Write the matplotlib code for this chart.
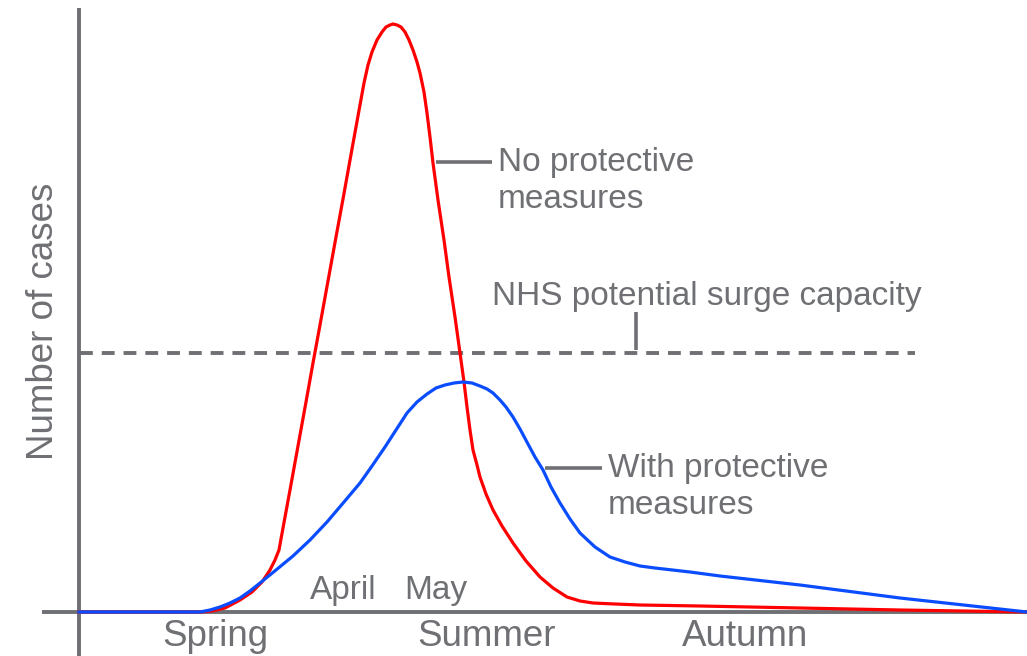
import numpy as np
import matplotlib.pyplot as plt

# curves: x in px across, height in px above the baseline
red_x = [79, 200, 212, 225, 240, 252, 262, 270, 275, 279, 283, 290, 298, 306, 313, 320,
         328, 336, 343, 352, 360, 364, 368, 372, 377, 382, 386, 390, 393, 397, 401,
         405, 409, 413, 417, 420, 424, 427, 430, 433, 438, 444, 449, 455, 460, 464, 467,
         470, 473, 477, 480, 486, 493, 502, 513, 526, 540, 553, 567, 580, 593, 615, 640,
         700, 800, 900, 1027]
red_y = [0, 0, 1, 4, 12, 20, 30, 42, 52, 62, 84, 122, 166, 210, 249, 287,
         331, 375, 413, 463, 507, 529, 547, 560, 572, 580, 585, 587, 588, 587, 585,
         580, 572, 562, 550, 539, 520, 499, 475, 449, 412, 372, 335, 295, 259, 230, 205,
         182, 162, 147, 135, 118, 102, 86, 69, 51, 35, 24, 15, 11, 9, 8, 7,
         6, 4, 2, 0]
blue_x = [79, 200, 210, 220, 230, 240, 250, 260, 276, 293, 310, 327, 344, 360, 372, 385, 396,
          407, 417, 427, 436, 445, 454, 463, 472, 480, 487, 493, 500, 506, 513, 520, 528,
          535, 543, 551, 560, 570, 580, 595, 610, 625, 640, 655, 690, 720, 800, 900, 1027]
blue_y = [0, 0, 2, 5, 9, 14, 21, 29, 42, 56, 72, 90, 110, 129, 146, 165, 182,
          199, 210, 218, 224, 227, 229, 230, 229, 226, 223, 219, 212, 205, 195, 183, 168,
          155, 142, 125, 109, 93, 79, 65, 55, 50, 46, 44, 40, 36, 27, 14, 0]
surge = 259

months = ["April", "May"]
month_x = [343, 436]
seasons = ["Spring", "Summer", "Autumn"]
season_x = [215, 487, 745]

grey = "#6f7073"
plt.rcParams['font.family'] = ['Liberation Sans', 'DejaVu Sans']

fig = plt.figure(figsize=(10.27, 6.56), dpi=100)
ax = fig.add_axes([0, 0, 1, 1])
ax.set_xlim(0, 1027)
ax.set_ylim(-44, 612)
ax.axis("off")

# axes lines
ax.plot([42, 1027], [0, 0], color=grey, lw=2.8, solid_capstyle="butt", zorder=1)
ax.plot([79, 79], [-44, 604], color=grey, lw=2.8, solid_capstyle="butt", zorder=1)

ax.plot([80, 915], [surge, surge], color=grey, lw=2.8, dashes=(3.3, 2.3), zorder=2)
ax.plot(red_x, red_y, color="#ff0000", lw=2.3, zorder=3, solid_joinstyle="round")
ax.plot(blue_x, blue_y, color="#0a4dff", lw=2.3, zorder=4, solid_joinstyle="round")

# label connectors
ax.plot([436, 492], [450, 450], color=grey, lw=2.6, solid_capstyle="butt")
ax.plot([545, 602], [144, 144], color=grey, lw=2.6, solid_capstyle="butt")
ax.plot([636, 636], [262, 300], color=grey, lw=2.6, solid_capstyle="butt")

fs = 24
ax.text(498, 431, "No protective\nmeasures", color=grey, fontsize=fs, va="center",
        ha="left", linespacing=1.25)
ax.text(608, 125, "With protective\nmeasures", color=grey, fontsize=fs, va="center",
        ha="left", linespacing=1.25)
ax.text(707, 315, "NHS potential surge capacity", color=grey, fontsize=fs, ha="center",
        va="center")
ax.text(44, 291, "Number of cases", color=grey, fontsize=26.5, rotation=90, ha="center",
        va="center")

for name, x in zip(months, month_x):
    ax.text(x, 22, name, color=grey, fontsize=fs, ha="center", va="center")
for name, x in zip(seasons, season_x):
    ax.text(x, -25, name, color=grey, fontsize=26.5, ha="center", va="center")

fig.savefig("out.png", dpi=100)
